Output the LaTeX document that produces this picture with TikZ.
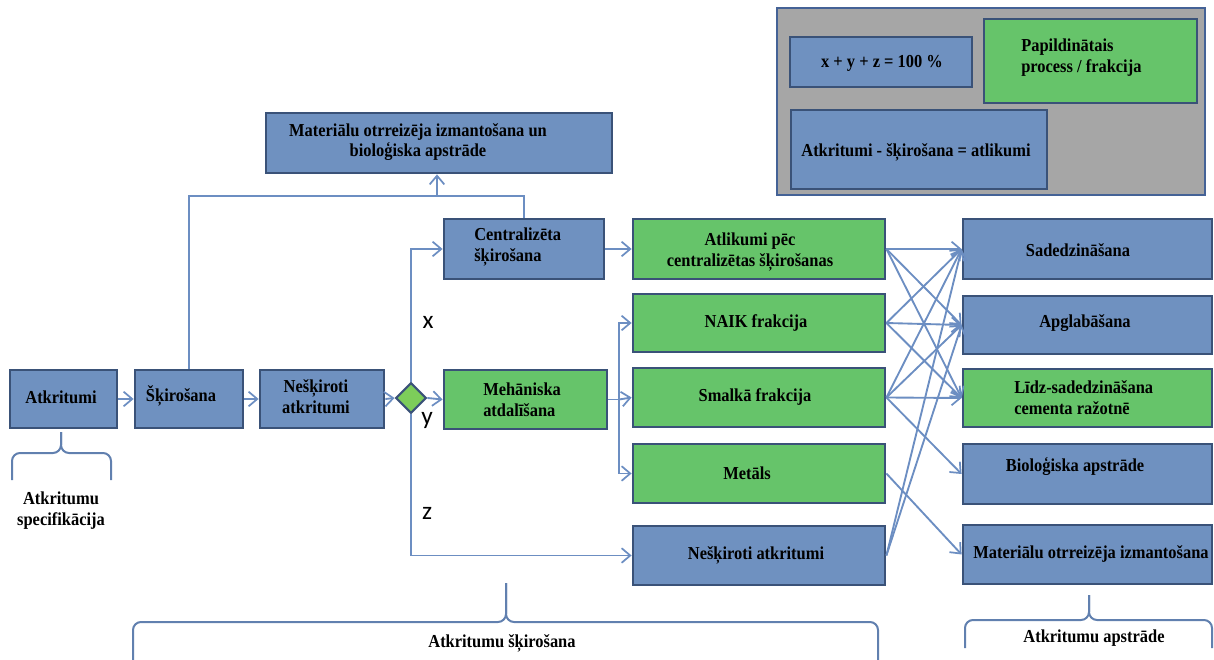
\documentclass[tikz,border=0pt]{standalone}
\usepackage{fontspec}
\setmainfont{Liberation Serif}[FakeStretch=0.9]
\newfontfamily\labelsans{Carlito}
\usetikzlibrary{shapes.geometric,arrows.meta}

\definecolor{boxblue}{RGB}{111,145,192}
\definecolor{boxgreen}{RGB}{102,196,106}
\definecolor{boxedge}{RGB}{58,82,120}
\definecolor{wire}{RGB}{108,142,194}
\definecolor{legendgray}{RGB}{166,166,166}
\definecolor{legendedge}{RGB}{68,98,150}

% rectangle node from its corner coordinates (x1,y1)-(x2,y2)
\newcommand\bx[6]{\node[#2, minimum width={(#5-#3)*0.75pt}, minimum height={(#6-#4)*0.75pt}] (#1) at ({(#3+#5)/2},{(#4+#6)/2}) {};}

\tikzset{
  bluebox/.style={rectangle, draw=boxedge, line width=2.1pt, fill=boxblue, inner sep=0pt},
  greenbox/.style={rectangle, draw=boxedge, line width=2.1pt, fill=boxgreen, inner sep=0pt},
  lbl/.style={inner sep=0pt, align=center, font=\bfseries\fontsize{13.7}{15.6}\selectfont},
  lbll/.style={lbl, align=left, anchor=west},
  conn/.style={draw=wire, line width=1.4pt, -{Straight Barb[length=6.5pt,width=11pt,line width=1.3pt]}},
  plain/.style={draw=wire, line width=1.4pt},
  brace/.style={draw=wire!90!black, line width=1.5pt, rounded corners=6pt},
  xyz/.style={inner sep=0pt, font=\labelsans\fontsize{19}{22}\selectfont}
}

\begin{document}
\begin{tikzpicture}[x=0.75pt, y=-0.75pt]
\useasboundingbox (0,0) rectangle (1214,660);

% legend
\bx{legend}{rectangle, draw=legendedge, line width=2.1pt, fill=legendgray}{777}{8}{1205}{195}
\bx{legsum}{bluebox}{790}{37}{972}{87}
\bx{legadd}{greenbox}{984}{19}{1197}{103}
\bx{legrest}{bluebox}{791}{110}{1047}{189}
\node[lbl] (legsumT) at (882,63) {x + y + z = 100 \%};
\node[lbll] (legaddT) at (1021,58) {Papildinātais\\process / frakcija};
\node[lbl] (legrestT) at (916,152) {Atkritumi - šķirošana = atlikumi};

% main chain
\bx{atk}{bluebox}{10}{370}{117}{428}
\bx{skir}{bluebox}{135}{370}{243}{428}
\bx{nes}{bluebox}{260}{370}{384}{428}
\node[diamond, aspect=1, draw=boxedge, line width=1.6pt, fill=boxgreen!85!yellow, minimum width=23pt, minimum height=23pt, inner sep=0pt] (dia) at (411,398) {};
\bx{meh}{greenbox}{444}{370}{607}{429}
\bx{cent}{bluebox}{444}{219}{604}{279}
\bx{matbio}{bluebox}{266}{113}{612}{173}

\node[lbl] (atkT) at (61,397) {Atkritumi};
\node[lbl] (skirT) at (181,396) {Šķirošana};
\node[lbl] (nesT) at (316,397) {Nešķiroti\\atkritumi};
\node[lbll] (mehT) at (483,400) {Mehāniska\\atdalīšana};
\node[lbll] (centT) at (474,247) {Centralizēta\\šķirošana};
\node[lbl] (matbioT) at (418,142) {Materiālu otrreizēja izmantošana un\\bioloģiska apstrāde};

% fractions
\bx{atl}{greenbox}{633}{219}{885}{279}
\bx{naik}{greenbox}{633}{294}{885}{352}
\bx{sm}{greenbox}{633}{368}{885}{427}
\bx{met}{greenbox}{633}{444}{885}{503}
\bx{nes2}{bluebox}{633}{526}{885}{585}
\node[lbl] (atlT) at (750,252) {Atlikumi pēc\\centralizētas šķirošanas};
\node[lbl] (naikT) at (756,323) {NAIK frakcija};
\node[lbl] (smT) at (755,397) {Smalkā frakcija};
\node[lbl] (metT) at (747,473) {Metāls};
\node[lbl] (nes2T) at (756,555) {Nešķiroti atkritumi};

% treatment
\bx{sad}{bluebox}{963}{219}{1212}{279}
\bx{apg}{bluebox}{963}{296}{1212}{354}
\bx{lidz}{greenbox}{963}{369}{1212}{427}
\bx{bio}{bluebox}{963}{444}{1212}{504}
\bx{mat}{bluebox}{963}{525}{1212}{584}
\node[lbl] (sadT) at (1078,250) {Sadedzināšana};
\node[lbl] (apgT) at (1085,323) {Apglabāšana};
\node[lbll] (lidzT) at (1014,398) {Līdz-sadedzināšana\\cementa ražotnē};
\node[lbl] (bioT) at (1075,467) {Bioloģiska apstrāde};
\node[lbl] (matT) at (1091,554) {Materiālu otrreizēja izmantošana};

% split shares
\node[xyz] (lx) at (428,322) {x};
\node[xyz] (ly) at (427,420) {y};
\node[xyz] (lz) at (427,513) {z};

% connectors
\draw[conn] (atk.east) -- (skir.west);
\draw[conn] (skir.east) -- (nes.west);
\draw[conn] (nes.east) -- (dia.west);
\draw[conn] (dia.east) -- (meh.west);
\draw[conn] (dia.north) |- (cent.west);
\draw[conn] (dia.south) |- (nes2.west);
\draw[conn] (cent.east) -- (atl.west);

\coordinate (join) at (437,196);
\draw[plain] (skir.north) |- (join);
\draw[plain] (cent.north) |- (join);
\draw[conn] (join) -- (join |- matbio.south);

\coordinate (br) at (619,399.5);
\draw[plain] (meh.east) -- (br);
\draw[conn] (br) |- (naik.west);
\draw[conn] (br) -- (sm.west);
\draw[conn] (br) |- (met.west);

\foreach \s/\t in {atl/sad, atl/apg, atl/lidz, naik/sad, naik/apg, naik/lidz,
                   sm/sad, sm/apg, sm/lidz, sm/bio, met/mat, nes2/sad, nes2/apg}
  \draw[conn] (\s.east) -- (\t.west);

% braces and group captions
\draw[brace] (12,480) -- (12,453) -- (61,453) -- (61,432);
\draw[brace] (111,480) -- (111,453) -- (61,453) -- (61,432);
\node[lbl] (specT) at (61,511) {Atkritumu\\specifikācija};

\draw[brace] (133,662) -- (133,622) -- (506,622) -- (506,583);
\draw[brace] (878,662) -- (878,622) -- (506,622) -- (506,583);
\node[lbl] (sortT) at (502,643) {Atkritumu šķirošana};

\draw[brace] (965,648) -- (965,620) -- (1089,620) -- (1089,595);
\draw[brace] (1212,648) -- (1212,620) -- (1089,620) -- (1089,595);
\node[lbl] (treatT) at (1094,638) {Atkritumu apstrāde};
\end{tikzpicture}
\end{document}
